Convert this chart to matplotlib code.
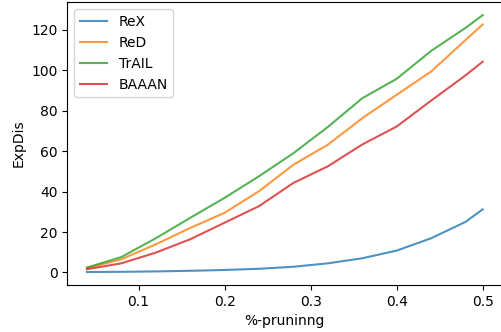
import matplotlib
matplotlib.use("Agg")
import matplotlib.pyplot as plt

x = [0.04, 0.08, 0.12, 0.16, 0.20, 0.24, 0.28, 0.32, 0.36, 0.40, 0.44, 0.48, 0.50]
rex = [0.2, 0.3, 0.5, 0.8, 1.2, 1.8, 2.8, 4.5, 7.0, 10.8, 16.9, 25.0, 31.2]
red = [2.1, 6.5, 13.9, 22.0, 29.5, 40.2, 53.3, 63.2, 76.3, 87.9, 99.4, 115.0, 122.7]
trail = [2.4, 7.6, 16.9, 27.0, 36.9, 47.6, 59.0, 72.0, 86.2, 95.8, 109.6, 121.0, 127.3]
baaan = [1.6, 4.5, 9.8, 16.4, 24.6, 32.8, 44.3, 52.5, 63.3, 72.2, 85.0, 97.5, 104.3]

fig = plt.figure(figsize=(5.01, 3.32), dpi=100)
ax = fig.add_axes([0.134, 0.142, 0.869, 0.851])

# lines look a bit faded in the original
ax.plot(x, rex, label="ReX", alpha=0.8)
ax.plot(x, red, label="ReD", alpha=0.8)
ax.plot(x, trail, label="TrAIL", alpha=0.8)
ax.plot(x, baaan, label="BAAAN", alpha=0.8)

ax.set_xlabel("%-pruninng")
ax.set_ylabel("ExpDis")
ax.set_xticks([0.1, 0.2, 0.3, 0.4, 0.5])
ax.legend(loc="upper left")

fig.savefig("out.png", dpi=100)
